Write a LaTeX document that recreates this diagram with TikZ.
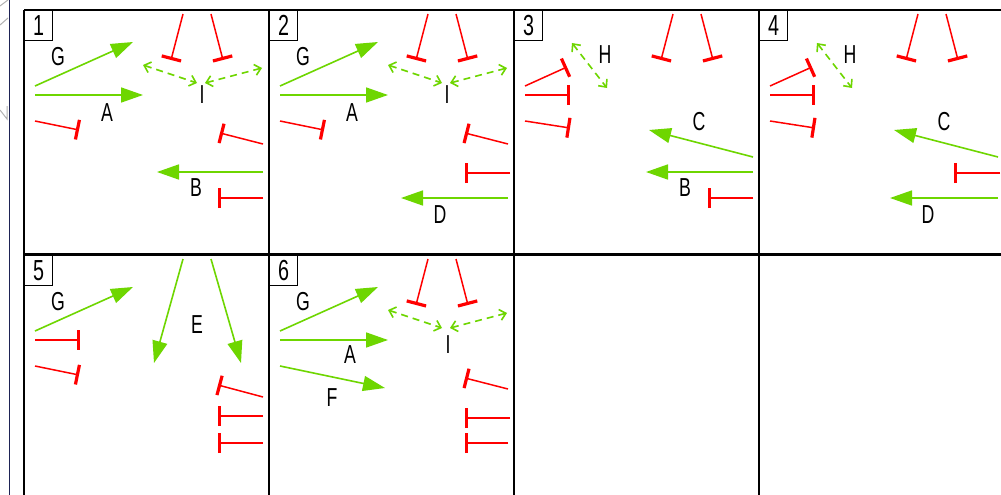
\documentclass[tikz,border=0pt]{standalone}
\usepackage{fontspec}
\setmainfont[FakeStretch=0.68]{Liberation Sans}
\usetikzlibrary{arrows.meta}
\definecolor{grn}{RGB}{110,214,0}
\definecolor{navy}{RGB}{30,35,85}
\tikzset{
 act/.style={draw=grn,line width=1.6pt,-{Triangle[length=22pt,width=15pt]}},
 inh/.style={draw=red,line width=1.5pt,-{Bar[width=20pt,line width=3.2pt]}},
 dbl/.style={draw=grn,line width=1.6pt,dash pattern=on 7pt off 5pt,
   {Straight Barb[length=6pt,width=11pt,line width=1.6pt]}-{Straight Barb[length=6pt,width=11pt,line width=1.6pt]}},
 lbl/.style={inner sep=0pt,font=\fontsize{26}{26}\selectfont},
 numbox/.style={draw,fill=white,line width=1.3pt,minimum width=28pt,minimum height=30pt,inner sep=0pt,anchor=north west,font=\fontsize{29}{29}\selectfont},
 frame/.style={draw=black,line width=2.2pt},
 edge/.style={draw=gray!60,line width=1pt},
}
\begin{document}
\begin{tikzpicture}[x=1pt,y=-1pt]
\useasboundingbox (0,0) rectangle (1001,495);
\fill[white] (0,0) rectangle (1001,495);
% left edge remnants
\draw[navy,line width=1.8pt] (9.5,0) -- (9.5,495);
\coordinate (lg1) at (0,6); \coordinate (lg2) at (8,0);
\coordinate (lg3) at (0,25); \coordinate (lg4) at (8,18);
\coordinate (lg5) at (0,110); \coordinate (lg6) at (7,119); \coordinate (lg7) at (7,106);
\draw[edge] (lg1) -- (lg2);
\draw[edge] (lg3) -- (lg4);
\draw[edge] (lg5) -- (lg6) -- (lg7);
% frame
\coordinate (ft0) at (24,10); \coordinate (ft1) at (1001,10);
\coordinate (fm0) at (24,254.5); \coordinate (fm1) at (1001,254.5);
\draw[frame] (ft0) -- (ft1);
\draw[frame] (fm0) -- (fm1);
\foreach \xx in {24,269,514,759}{
  \coordinate (fv\xx a) at (\xx,10); \coordinate (fv\xx b) at (\xx,495);
  \draw[frame] (fv\xx a) -- (fv\xx b);
}
% ---------- panel 1
\begin{scope}[shift={(24,10)},name prefix=p1-]
\node[numbox] (num) at (0,0) {1};
\coordinate (g0) at (11,76); \coordinate (g1) at (109,32);
\draw[act] (g0) -- (g1); \node[lbl] (G) at (34,47) {G};
\coordinate (a0) at (11,85); \coordinate (a1) at (119,85);
\draw[act] (a0) -- (a1); \node[lbl] (A) at (83,103) {A};
\coordinate (t0) at (11,111); \coordinate (t1) at (55,120);
\draw[inh] (t0) -- (t1);
\coordinate (u0) at (159,4); \coordinate (u1) at (147,50);
\coordinate (v0) at (187,4); \coordinate (v1) at (199,50);
\draw[inh] (u0) -- (u1); \draw[inh] (v0) -- (v1);
\coordinate (d0) at (119,55); \coordinate (d1) at (173,73);
\coordinate (e0) at (238,58); \coordinate (e1) at (181,73);
\draw[dbl] (d0) -- (d1); \draw[dbl] (e0) -- (e1);
\node[lbl] (I) at (178,85) {I};
\coordinate (r0) at (239,134); \coordinate (r1) at (196,123);
\draw[inh] (r0) -- (r1);
\coordinate (b0) at (239,162); \coordinate (b1) at (133,162);
\draw[act] (b0) -- (b1); \node[lbl] (B) at (172,178) {B};
\coordinate (s0) at (239,188); \coordinate (s1) at (194,188);
\draw[inh] (s0) -- (s1);
\end{scope}
% ---------- panel 2
\begin{scope}[shift={(269,10)},name prefix=p2-]
\node[numbox] (num) at (0,0) {2};
\coordinate (g0) at (11,76); \coordinate (g1) at (109,32);
\draw[act] (g0) -- (g1); \node[lbl] (G) at (34,47) {G};
\coordinate (a0) at (11,85); \coordinate (a1) at (119,85);
\draw[act] (a0) -- (a1); \node[lbl] (A) at (83,103) {A};
\coordinate (t0) at (11,111); \coordinate (t1) at (55,120);
\draw[inh] (t0) -- (t1);
\coordinate (u0) at (159,4); \coordinate (u1) at (147,50);
\coordinate (v0) at (187,4); \coordinate (v1) at (199,50);
\draw[inh] (u0) -- (u1); \draw[inh] (v0) -- (v1);
\coordinate (d0) at (119,55); \coordinate (d1) at (173,73);
\coordinate (e0) at (238,58); \coordinate (e1) at (181,73);
\draw[dbl] (d0) -- (d1); \draw[dbl] (e0) -- (e1);
\node[lbl] (I) at (178,85) {I};
\coordinate (r0) at (239,134); \coordinate (r1) at (196,123);
\draw[inh] (r0) -- (r1);
\coordinate (m0) at (241,163); \coordinate (m1) at (196,163);
\draw[inh] (m0) -- (m1);
\coordinate (dd0) at (239,188); \coordinate (dd1) at (132,188);
\draw[act] (dd0) -- (dd1); \node[lbl] (D) at (171,205) {D};
\end{scope}
% ---------- panel 3
\begin{scope}[shift={(514,10)},name prefix=p3-]
\node[numbox] (num) at (0,0) {3};
\coordinate (l10) at (11,76); \coordinate (l11) at (53,57);
\coordinate (l20) at (11,85); \coordinate (l21) at (56,85);
\coordinate (l30) at (11,111); \coordinate (l31) at (56,118);
\draw[inh] (l10) -- (l11); \draw[inh] (l20) -- (l21); \draw[inh] (l30) -- (l31);
\coordinate (h0) at (58,33); \coordinate (h1) at (93,78);
\draw[dbl] (h0) -- (h1); \node[lbl] (H) at (91,45) {H};
\coordinate (u0) at (159,4); \coordinate (u1) at (147,50);
\coordinate (v0) at (187,4); \coordinate (v1) at (199,50);
\draw[inh] (u0) -- (u1); \draw[inh] (v0) -- (v1);
\coordinate (c0) at (239,147); \coordinate (c1) at (135,120);
\draw[act] (c0) -- (c1); \node[lbl] (C) at (185,112) {C};
\coordinate (b0) at (239,162); \coordinate (b1) at (132,162);
\draw[act] (b0) -- (b1); \node[lbl] (B) at (171,178) {B};
\coordinate (s0) at (239,188); \coordinate (s1) at (194,188);
\draw[inh] (s0) -- (s1);
\end{scope}
% ---------- panel 4
\begin{scope}[shift={(759,10)},name prefix=p4-]
\node[numbox] (num) at (0,0) {4};
\coordinate (l10) at (11,76); \coordinate (l11) at (53,57);
\coordinate (l20) at (11,85); \coordinate (l21) at (56,85);
\coordinate (l30) at (11,111); \coordinate (l31) at (56,118);
\draw[inh] (l10) -- (l11); \draw[inh] (l20) -- (l21); \draw[inh] (l30) -- (l31);
\coordinate (h0) at (58,33); \coordinate (h1) at (93,78);
\draw[dbl] (h0) -- (h1); \node[lbl] (H) at (91,45) {H};
\coordinate (u0) at (159,4); \coordinate (u1) at (147,50);
\coordinate (v0) at (187,4); \coordinate (v1) at (199,50);
\draw[inh] (u0) -- (u1); \draw[inh] (v0) -- (v1);
\coordinate (c0) at (239,147); \coordinate (c1) at (135,120);
\draw[act] (c0) -- (c1); \node[lbl] (C) at (185,112) {C};
\coordinate (m0) at (241,163); \coordinate (m1) at (195,163);
\draw[inh] (m0) -- (m1);
\coordinate (dd0) at (239,188); \coordinate (dd1) at (131,188);
\draw[act] (dd0) -- (dd1); \node[lbl] (D) at (169,205) {D};
\end{scope}
% ---------- panel 5
\begin{scope}[shift={(24,255)},name prefix=p5-]
\node[numbox] (num) at (0,0) {5};
\coordinate (g0) at (11,76); \coordinate (g1) at (109,32);
\draw[act] (g0) -- (g1); \node[lbl] (G) at (34,47) {G};
\coordinate (t20) at (11,85); \coordinate (t21) at (56,85);
\coordinate (t30) at (11,111); \coordinate (t31) at (55,120);
\draw[inh] (t20) -- (t21); \draw[inh] (t30) -- (t31);
\coordinate (e10) at (159,4); \coordinate (e11) at (130,108);
\coordinate (e20) at (187,4); \coordinate (e21) at (217,108);
\draw[act] (e10) -- (e11); \draw[act] (e20) -- (e21);
\node[lbl] (E) at (173,70) {E};
\coordinate (r10) at (239,142); \coordinate (r11) at (194,130);
\coordinate (r20) at (239,161); \coordinate (r21) at (194,161);
\coordinate (r30) at (239,188); \coordinate (r31) at (194,188);
\draw[inh] (r10) -- (r11); \draw[inh] (r20) -- (r21); \draw[inh] (r30) -- (r31);
\end{scope}
% ---------- panel 6
\begin{scope}[shift={(269,255)},name prefix=p6-]
\node[numbox] (num) at (0,0) {6};
\coordinate (g0) at (11,76); \coordinate (g1) at (109,32);
\draw[act] (g0) -- (g1); \node[lbl] (G) at (34,47) {G};
\coordinate (a0) at (11,85); \coordinate (a1) at (119,85);
\draw[act] (a0) -- (a1); \node[lbl] (A) at (81,100) {A};
\coordinate (f0) at (11,111); \coordinate (f1) at (116,133);
\draw[act] (f0) -- (f1); \node[lbl] (F) at (63,143) {F};
\coordinate (u0) at (159,4); \coordinate (u1) at (147,50);
\coordinate (v0) at (187,4); \coordinate (v1) at (199,50);
\draw[inh] (u0) -- (u1); \draw[inh] (v0) -- (v1);
\coordinate (d0) at (119,55); \coordinate (d1) at (173,73);
\coordinate (e0) at (238,58); \coordinate (e1) at (181,73);
\draw[dbl] (d0) -- (d1); \draw[dbl] (e0) -- (e1);
\node[lbl] (I) at (179,90) {I};
\coordinate (r10) at (239,134); \coordinate (r11) at (196,123);
\coordinate (r20) at (241,163); \coordinate (r21) at (196,163);
\coordinate (r30) at (239,188); \coordinate (r31) at (196,188);
\draw[inh] (r10) -- (r11); \draw[inh] (r20) -- (r21); \draw[inh] (r30) -- (r31);
\end{scope}
\end{tikzpicture}
\end{document}
